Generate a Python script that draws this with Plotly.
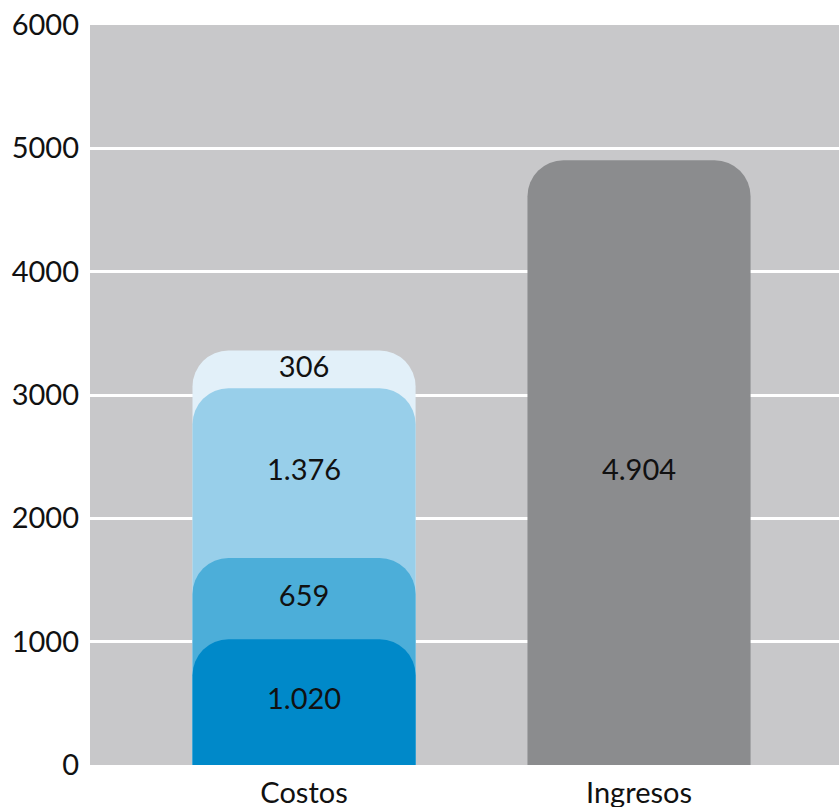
import numpy as np
import plotly.graph_objects as go

# Data
categories = ["Costos", "Ingresos"]
costos_values = [1020, 659, 1376, 306]
costos_labels = ["1.020", "659", "1.376", "306"]
costos_colors = ["#0089c9", "#4caed9", "#98cfea", "#e2f0f9"]
ingresos_value = [4904]
ingresos_labels = ["4.904"]
ingresos_color = "#8b8c8e"
y_ticks = [0, 1000, 2000, 3000, 4000, 5000, 6000]

FONT = "Lato"
XRANGE = [-0.639, 1.597]
cum = np.cumsum(costos_values)
mids = cum - np.array(costos_values) / 2.0

fig = go.Figure()

# Ingresos bar on main axis
fig.add_trace(go.Bar(
    x=[categories[1]], y=ingresos_value, width=0.666,
    marker=dict(color=ingresos_color, line=dict(width=0), cornerradius=36),
    hoverinfo="skip", showlegend=False, xaxis="x", yaxis="y",
))

# Stacked segments as overlapping rounded bars, each on its own overlaid x axis,
# largest first (behind)
order = list(reversed(range(len(costos_values))))
layout_axes = {}
for k, i in enumerate(order):
    ax_id = k + 2
    fig.add_trace(go.Bar(
        x=[categories[0]], y=[int(cum[i])], width=0.666,
        marker=dict(color=costos_colors[i], line=dict(width=0), cornerradius=36),
        hoverinfo="skip", showlegend=False,
        xaxis=f"x{ax_id}", yaxis="y",
    ))
    layout_axes[f"xaxis{ax_id}"] = dict(
        overlaying="x", matches="x", visible=False,
        type="category", categoryorder="array", categoryarray=categories,
        range=XRANGE, fixedrange=True,
    )

text_ax = len(order) + 2
fig.add_trace(go.Scatter(
    x=[categories[0]] * len(costos_values) + [categories[1]],
    y=list(mids) + [ingresos_value[0] / 2.0 - 80],
    text=costos_labels + ingresos_labels,
    mode="text",
    textfont=dict(family=FONT, size=29, color="#111111"),
    hoverinfo="skip", showlegend=False,
    xaxis=f"x{text_ax}", yaxis="y",
))
layout_axes[f"xaxis{text_ax}"] = dict(
    overlaying="x", matches="x", visible=False,
    type="category", categoryorder="array", categoryarray=categories,
    range=XRANGE, fixedrange=True,
)

fig.update_layout(
    barmode="overlay",
    width=839, height=807,
    margin=dict(l=90, r=0, t=25, b=42),
    plot_bgcolor="#c8c8ca",
    paper_bgcolor="#ffffff",
    font=dict(family=FONT, color="#111111"),
    hovermode=False,
    xaxis=dict(
        type="category", categoryorder="array", categoryarray=categories,
        range=XRANGE, showgrid=False, zeroline=False, showline=False,
        tickfont=dict(family=FONT, size=29, color="#111111"),
        ticks="", ticklabelstandoff=8, fixedrange=True, automargin=False,
    ),
    yaxis=dict(
        range=[0, 6000], tickvals=y_ticks, ticktext=[str(v) for v in y_ticks],
        showgrid=True, gridcolor="#ffffff", gridwidth=3,
        zeroline=False, showline=False,
        tickfont=dict(family=FONT, size=29, color="#111111"),
        ticks="", ticklabelstandoff=10, fixedrange=True, automargin=False,
    ),
    **layout_axes,
)

fig.write_html(
    "out.html",
    config={"displayModeBar": False, "staticPlot": True},
    post_script="document.body.style.margin='0';document.body.style.padding='0';",
)
